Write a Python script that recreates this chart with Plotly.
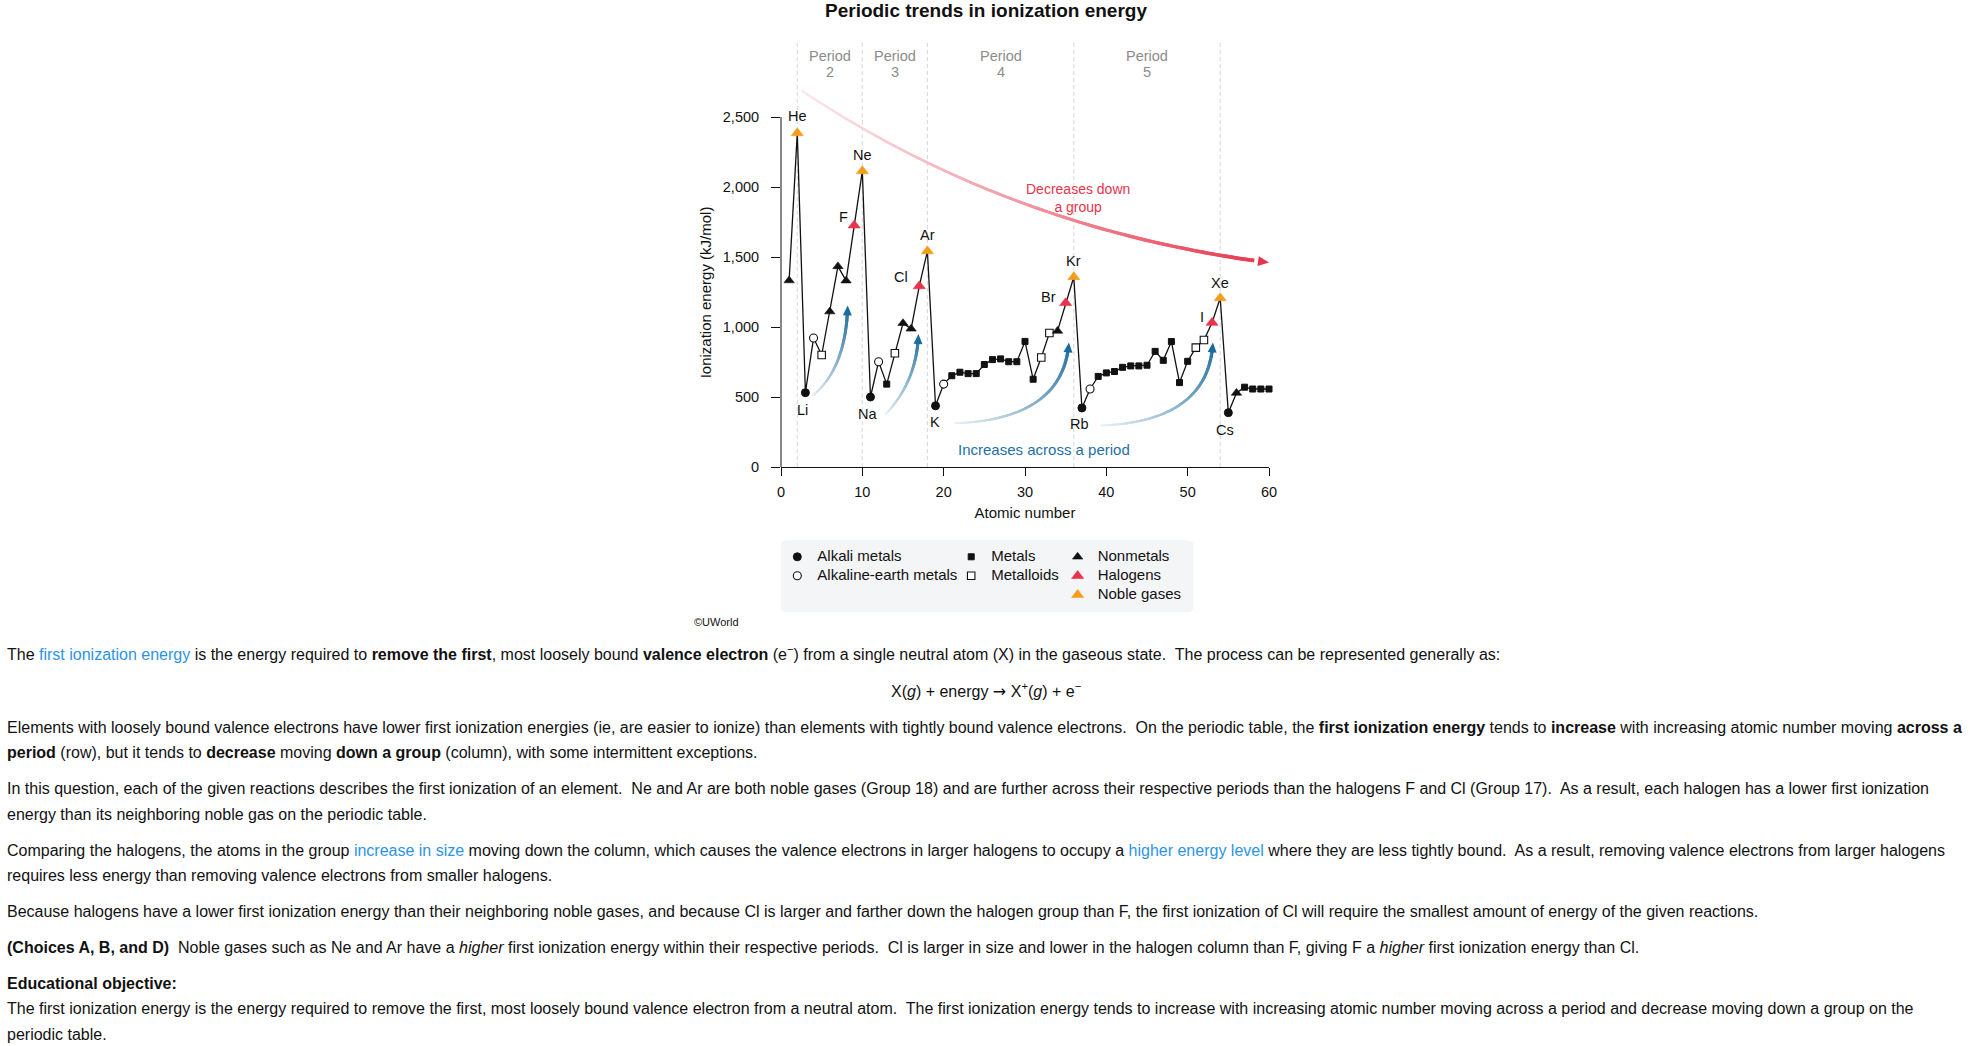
import math
import plotly.graph_objects as go

# ---------------- data ----------------
atomic_number = [1, 2, 3, 4, 5, 6, 7, 8, 9, 10,
                 11, 12, 13, 14, 15, 16, 17, 18, 19, 20,
                 21, 22, 23, 24, 25, 26, 27, 28, 29, 30,
                 31, 32, 33, 34, 35, 36, 37, 38, 39, 40,
                 41, 42, 43, 44, 45, 46, 47, 48, 49, 50,
                 51, 52, 53, 54, 55, 56, 57, 58, 59, 60]
element_symbol = ["H", "He", "Li", "Be", "B", "C", "N", "O", "F", "Ne",
                  "Na", "Mg", "Al", "Si", "P", "S", "Cl", "Ar", "K", "Ca",
                  "Sc", "Ti", "V", "Cr", "Mn", "Fe", "Co", "Ni", "Cu", "Zn",
                  "Ga", "Ge", "As", "Se", "Br", "Kr", "Rb", "Sr", "Y", "Zr",
                  "Nb", "Mo", "Tc", "Ru", "Rh", "Pd", "Ag", "Cd", "In", "Sn",
                  "Sb", "Te", "I", "Xe", "Cs", "Ba", "La", "Ce", "Pr", "Nd"]
ionization_energy = [1332, 2385, 531, 921, 800, 1110, 1433, 1331, 1726, 2114,
                     500, 752, 592, 812, 1027, 987, 1292, 1542, 437, 592,
                     652, 677, 667, 667, 732, 767, 772, 752, 752, 897,
                     627, 782, 957, 972, 1172, 1357, 422, 557, 647, 672,
                     682, 712, 722, 722, 727, 826, 762, 896, 603, 755,
                     853, 907, 1031, 1207, 388, 529, 570, 557, 557, 557]
element_group = ["nonmetal", "noble", "alkali", "alkaline", "metalloid", "nonmetal", "nonmetal", "nonmetal", "halogen", "noble",
                 "alkali", "alkaline", "metal", "metalloid", "nonmetal", "nonmetal", "halogen", "noble", "alkali", "alkaline",
                 "metal", "metal", "metal", "metal", "metal", "metal", "metal", "metal", "metal", "metal",
                 "metal", "metalloid", "metalloid", "nonmetal", "halogen", "noble", "alkali", "alkaline", "metal", "metal",
                 "metal", "metal", "metal", "metal", "metal", "metal", "metal", "metal", "metal", "metal",
                 "metalloid", "metalloid", "halogen", "noble", "alkali", "nonmetal", "metal", "metal", "metal", "metal"]

group_keys = ["alkali", "alkaline", "metal", "metalloid", "nonmetal", "halogen", "noble"]
group_names = ["Alkali metals", "Alkaline-earth metals", "Metals", "Metalloids",
               "Nonmetals", "Halogens", "Noble gases"]

labeled_elements = ["He", "Ne", "F", "Ar", "Cl", "Kr", "Br", "Xe", "I",
                    "Li", "Na", "K", "Rb", "Cs"]

period_names = ["2", "3", "4", "5"]
period_centers = [6, 14, 27, 45]
period_boundaries = [2, 10, 18, 36, 54]

x_ticks = [0, 10, 20, 30, 40, 50, 60]
y_ticks = [0, 500, 1000, 1500, 2000, 2500]

# ---------------- styling ----------------
FONT = "Liberation Sans, Arial, Helvetica, sans-serif"
RED = "#e8334a"
ORANGE = "#f59d1b"
BLUE = "#1f6fa3"
LINK = "#2c94e8"
TXT = "#111111"

FIG_W, FIG_H = 1970, 1046
M_L, M_R, M_T, M_B = 780.7, 701, 32.7, 579.3
PW = FIG_W - M_L - M_R
PH = FIG_H - M_T - M_B
X_MAX = 60
Y_MAX = 3100
SX = PW / X_MAX
SY = PH / Y_MAX


def px2x(px):
    return (px - M_L) / PW


def px2y(py):
    return (FIG_H - M_B - py) / PH


styles = {
    "alkali": dict(symbol="circle", size=8, color="#111", line=dict(color="#111", width=1), legend="legend"),
    "alkaline": dict(symbol="circle", size=8, color="white", line=dict(color="#111", width=1.1), legend="legend"),
    "metal": dict(symbol="square", size=6, color="#111", line=dict(color="#111", width=1), legend="legend2"),
    "metalloid": dict(symbol="square", size=7.5, color="white", line=dict(color="#111", width=1.1), legend="legend2"),
    "nonmetal": dict(symbol="triangle-up", size=9, color="#111", line=dict(color="#111", width=0.6), legend="legend3"),
    "halogen": dict(symbol="triangle-up", size=10.5, color=RED, line=dict(color=RED, width=0.6), legend="legend3"),
    "noble": dict(symbol="triangle-up", size=10.5, color=ORANGE, line=dict(color=ORANGE, width=0.6), legend="legend3"),
}

label_offsets = {
    "He": (0, 17), "Ne": (0, 16), "Ar": (0, 16), "Kr": (0, 16), "Xe": (0, 15),
    "F": (-11, 8), "Cl": (-18, 9), "Br": (-17, 6), "I": (-10, 6),
    "Li": (-3, -17), "Na": (-3, -17), "K": (-1, -16), "Rb": (-2, -16), "Cs": (-3, -17),
}

fig = go.Figure()

# connecting line
fig.add_trace(go.Scatter(x=atomic_number, y=ionization_energy, mode="lines",
                         line=dict(color="#111", width=1.3), showlegend=False,
                         hoverinfo="skip"))

# marker traces by category
for key, name in zip(group_keys, group_names):
    idx = [i for i, g in enumerate(element_group) if g == key]
    st = styles[key]
    fig.add_trace(go.Scatter(
        x=[atomic_number[i] for i in idx],
        y=[ionization_energy[i] for i in idx],
        mode="markers", name='<span style="font-size:15px">%s</span>' % name, legend=st["legend"],
        marker=dict(symbol=st["symbol"], size=st["size"], color=st["color"], line=st["line"]),
        cliponaxis=False,
        text=[element_symbol[i] for i in idx],
        hovertemplate="%{text}: %{y} kJ/mol<extra></extra>",
    ))

shapes = []
annotations = []

# period boundaries (dashed)
for xb in period_boundaries:
    shapes.append(dict(type="line", xref="x", yref="y", x0=xb, x1=xb, y0=0, y1=3030,
                       line=dict(color="#d6d6d6", width=1, dash="4px,3px"), layer="below"))

# y-axis line only up to 2,500
shapes.append(dict(type="line", xref="paper", yref="y", x0=0, x1=0, y0=0, y1=y_ticks[-1],
                   line=dict(color="#111", width=1)))

# y-axis title centred on the 0-2,500 axis line
annotations.append(dict(x=px2x(705), y=y_ticks[-1] / 2, xref="paper", yref="y",
                        xanchor="center", yanchor="middle",
                        text="Ionization energy (kJ/mol)", textangle=-90, showarrow=False,
                        font=dict(family=FONT, size=15, color=TXT)))

# period labels
for name, xc in zip(period_names, period_centers):
    annotations.append(dict(x=xc, y=2939, xref="x", yref="y", text="Period", showarrow=False,
                            font=dict(family=FONT, size=14.5, color="#8c8c8c")))
    annotations.append(dict(x=xc, y=2822, xref="x", yref="y", text=name, showarrow=False,
                            font=dict(family=FONT, size=14.5, color="#8c8c8c")))

# element labels
for sym in labeled_elements:
    i = element_symbol.index(sym)
    dx, dy = label_offsets[sym]
    annotations.append(dict(x=atomic_number[i], y=ionization_energy[i], xref="x", yref="y",
                            text=sym, showarrow=False, xshift=dx, yshift=dy,
                            font=dict(family=FONT, size=14.5, color=TXT)))


# gradient curved arrows (quadratic Bezier in data space)
def bez(p0, c, p2, t):
    return ((1 - t) ** 2 * p0[0] + 2 * (1 - t) * t * c[0] + t ** 2 * p2[0],
            (1 - t) ** 2 * p0[1] + 2 * (1 - t) * t * c[1] + t ** 2 * p2[1])


def mix(c0, c1, t):
    return "rgb(%d,%d,%d)" % tuple(round(a + (b - a) * t) for a, b in zip(c0, c1))


def arrow_head(tip, prev, length, half_w, color):
    dx, dy = (tip[0] - prev[0]) * SX, (tip[1] - prev[1]) * SY
    n = math.hypot(dx, dy)
    ux, uy = dx / n, dy / n
    tx, ty = tip[0] * SX, tip[1] * SY
    bx, by = tx - ux * length, ty - uy * length
    c1 = ((bx - uy * half_w) / SX, (by + ux * half_w) / SY)
    c2 = ((bx + uy * half_w) / SX, (by - ux * half_w) / SY)
    shapes.append(dict(type="path", xref="x", yref="y", layer="below", fillcolor=color,
                       line=dict(width=0),
                       path="M %f,%f L %f,%f L %f,%f Z" % (tip[0], tip[1], c1[0], c1[1], c2[0], c2[1])))


def gradient_arrow(p0, c, p2, col0, col1, w0, w1, head_color, n=48, gamma=1.0, head=(10, 4.5)):
    pts = [bez(p0, c, p2, k / n) for k in range(n + 1)]
    stop = n - 2
    for k in range(stop):
        t = ((k + 0.5) / n) ** gamma
        a, b, d = pts[k], pts[k + 1], pts[min(k + 2, stop)]
        shapes.append(dict(type="path", xref="x", yref="y", layer="below",
                           path="M %f,%f L %f,%f L %f,%f" % (a[0], a[1], b[0], b[1], d[0], d[1]),
                           line=dict(color=mix(col0, col1, t), width=w0 + (w1 - w0) * (k / n))))
    arrow_head(p2, bez(p0, c, p2, 0.97), head[0], head[1], head_color)


# "Decreases down a group"
gradient_arrow((2.5, 2690), (28, 1700), (60, 1460), (251, 228, 231), (232, 51, 74), 2.0, 3.6, RED,
               n=70, gamma=1.2, head=(11, 5))
# "Increases across a period"
across_arrows = [((3.8, 505), (8.0, 700), (8.2, 1154)),
                 ((12.8, 373), (16.7, 610), (16.9, 950)),
                 ((21.3, 313), (34.7, 337), (35.4, 890)),
                 ((39.3, 296), (52.6, 325), (53.1, 890))]
for p0, c, p2 in across_arrows:
    gradient_arrow(p0, c, p2, (232, 240, 246), (27, 108, 155), 2.0, 3.2, "#1b6c9b", n=40,
                   head=(10, 4.5))

annotations.append(dict(x=36.5, y=1922, xref="x", yref="y", text="Decreases down<br>a group",
                        showarrow=False, font=dict(family=FONT, size=14, color=RED)))
annotations.append(dict(x=32.3, y=126, xref="x", yref="y", text="Increases across a period",
                        showarrow=False, font=dict(family=FONT, size=15, color=BLUE)))

# legend background box (rounded)
bx0, bx1, by0, by1, r = 780.7, 1193.5, 540, 611.7, 6
shapes.append(dict(
    type="path", xref="paper", yref="paper", layer="below",
    fillcolor="#f4f5f7", line=dict(width=0),
    path=("M {a},{b} L {c},{b} Q {x1},{b} {x1},{d} L {x1},{e} Q {x1},{y1} {c},{y1} "
          "L {a},{y1} Q {x0},{y1} {x0},{e} L {x0},{d} Q {x0},{b} {a},{b} Z").format(
        a=px2x(bx0 + r), c=px2x(bx1 - r), b=px2y(by0), d=px2y(by0 + r), e=px2y(by1 - r),
        x0=px2x(bx0), x1=px2x(bx1), y1=px2y(by1))))

annotations.append(dict(x=px2x(692), y=px2y(622), xref="paper", yref="paper", text="©UWorld",
                        showarrow=False, xanchor="left", yanchor="middle",
                        font=dict(family=FONT, size=11, color=TXT)))

# ---------------- explanation text below the chart ----------------
sp = "\u00a0 "


def link(s):
    return '<span style="color:%s">%s</span>' % (LINK, s)


ARROW = '<span style="font-family:DejaVu Sans">→</span>'

body_lines = [
    ("The " + link("first ionization energy") + " is the energy required to <b>remove the first</b>, most loosely bound "
     "<b>valence electron</b> (e<sup>−</sup>) from a single neutral atom (X) in the gaseous state." + sp +
     "The process can be represented generally as:", 653, "left"),
    ("X(<i>g</i>) + energy " + ARROW + " X<sup>+</sup>(<i>g</i>) + e<sup>−</sup>", 690, "center"),
    ("Elements with loosely bound valence electrons have lower first ionization energies (ie, are easier to ionize) than "
     "elements with tightly bound valence electrons." + sp + "On the periodic table, the <b>first ionization energy</b> "
     "tends to <b>increase</b> with increasing atomic number moving <b>across a</b>", 727, "left"),
    ("<b>period</b> (row), but it tends to <b>decrease</b> moving <b>down a group</b> (column), with some intermittent "
     "exceptions.", 752.5, "left"),
    ("In this question, each of the given reactions describes the first ionization of an element." + sp +
     "Ne and Ar are both noble gases (Group 18) and are further across their respective periods than the halogens F and "
     "Cl (Group 17)." + sp + "As a result, each halogen has a lower first ionization", 788.5, "left"),
    ("energy than its neighboring noble gas on the periodic table.", 814, "left"),
    ("Comparing the halogens, the atoms in the group " + link("increase in size") + " moving down the column, which "
     "causes the valence electrons in larger halogens to occupy a " + link("higher energy level") + " where they are "
     "less tightly bound." + sp + "As a result, removing valence electrons from larger halogens", 850, "left"),
    ("requires less energy than removing valence electrons from smaller halogens.", 875.5, "left"),
    ("Because halogens have a lower first ionization energy than their neighboring noble gases, and because Cl is larger "
     "and farther down the halogen group than F, the first ionization of Cl will require the smallest amount of energy "
     "of the given reactions.", 911, "left"),
    ("<b>(Choices A, B, and D)</b>" + sp + "Noble gases such as Ne and Ar have a <i>higher</i> first ionization energy "
     "within their respective periods." + sp + "Cl is larger in size and lower in the halogen column than F, giving F "
     "a <i>higher</i> first ionization energy than Cl.", 947, "left"),
    ("<b>Educational objective:</b>", 983, "left"),
    ("The first ionization energy is the energy required to remove the first, most loosely bound valence electron from a "
     "neutral atom." + sp + "The first ionization energy tends to increase with increasing atomic number moving across "
     "a period and decrease moving down a group on the", 1008.5, "left"),
    ("periodic table.", 1034, "left"),
]
for text, ypx, anchor in body_lines:
    annotations.append(dict(x=px2x(986 if anchor == "center" else 4), y=px2y(ypx), xref="paper", yref="paper",
                            text=text, showarrow=False, xanchor=anchor, yanchor="middle", align="left",
                            font=dict(family=FONT, size=16, color=TXT)))

legend_common = dict(xanchor="left", yanchor="top", bgcolor="rgba(0,0,0,0)", borderwidth=0,
                     font=dict(family=FONT, size=12, color=TXT), itemwidth=30, tracegroupgap=0,
                     orientation="v", y=px2y(542))

fig.update_layout(
    width=FIG_W, height=FIG_H,
    margin=dict(l=M_L, r=M_R, t=M_T, b=M_B, pad=0),
    paper_bgcolor="white", plot_bgcolor="white",
    font=dict(family=FONT, color=TXT),
    title=dict(text="<b>Periodic trends in ionization energy</b>", xref="container", yref="container",
               x=986 / FIG_W, y=1 - 10 / FIG_H, xanchor="center", yanchor="middle",
               font=dict(family=FONT, size=19, color=TXT)),
    xaxis=dict(range=[0, X_MAX], tickvals=x_ticks, ticks="outside", ticklen=8, tickwidth=1, tickcolor="#111",
               ticklabelstandoff=4,
               showline=True, linecolor="#111", linewidth=1, showgrid=False, zeroline=False,
               tickfont=dict(family=FONT, size=14.5, color=TXT),
               title=dict(text="Atomic number", standoff=7.5, font=dict(family=FONT, size=15, color=TXT))),
    yaxis=dict(range=[0, Y_MAX], tickvals=y_ticks, tickformat=",", ticks="outside", ticklen=9, tickwidth=1,
               ticklabelstandoff=9,
               tickcolor="#111", showline=False, showgrid=False, zeroline=False,
               tickfont=dict(family=FONT, size=14.5, color=TXT)),
    legend=dict(legend_common, x=px2x(777)),
    legend2=dict(legend_common, x=px2x(951)),
    legend3=dict(legend_common, x=px2x(1057.5)),
    shapes=shapes,
    annotations=annotations,
)

fig.write_html("out.html", config={"displayModeBar": False},
               post_script="document.body.style.margin='0';")
